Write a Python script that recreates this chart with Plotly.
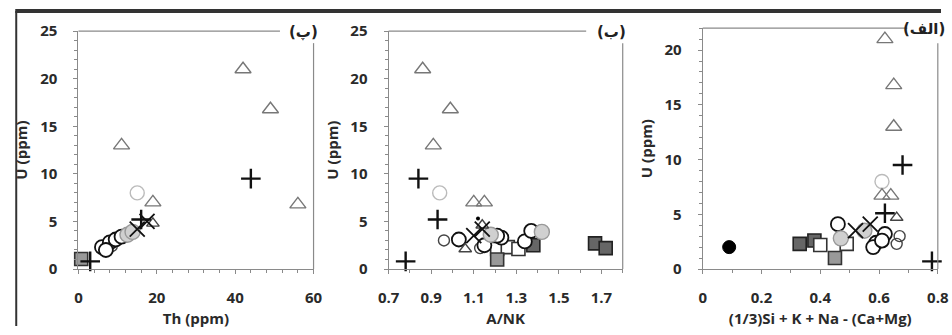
import plotly.graph_objects as go

W, H = 952, 335
# measured mapping of figure pixels to photographed pixels: X = AX + SX*x, Y = AY + SY*y
AX, SX, AY, SY = 3.7, 0.989, 8.7, 0.945

# ---------------- data ----------------
# Panel (پ): Th (ppm) vs U (ppm)
p1_tri_x = [42, 49, 11, 19, 56];          p1_tri_y = [21, 16.8, 13, 7, 6.8]
p1_plus_x = [44, 16, 3];                  p1_plus_y = [9.5, 5.2, 0.8]
p1_dcirc_x = [15];                        p1_dcirc_y = [8]
p1_sq_x = [0.7];                          p1_sq_y = [1.05]
p1_ocirc_x = [6, 8, 9.5, 7, 11];          p1_ocirc_y = [2.3, 2.8, 3.1, 2.0, 3.4]
p1_gcirc_x = [12.5, 13.8];                p1_gcirc_y = [3.6, 3.9]
p1_sdcirc_x = [6.5, 8.5];                 p1_sdcirc_y = [2.0, 2.4]
p1_dtri_x = [19];                         p1_dtri_y = [4.8]
p1_xm_x = [15, 17.5];                     p1_xm_y = [4.2, 5.0]

# Panel (ب): A/NK vs U (ppm)
p2_tri_x = [0.86, 0.99, 0.91, 1.10, 1.15]; p2_tri_y = [21, 16.8, 13, 7, 7]
p2_plus_x = [0.84, 0.93, 0.78];            p2_plus_y = [9.5, 5.2, 0.8]
p2_dcirc_x = [0.94];                       p2_dcirc_y = [8]
p2_dsq_x = [1.67, 1.72, 1.38];             p2_dsq_y = [2.7, 2.2, 2.5]
p2_lsq_x = [1.21];                         p2_lsq_y = [1.0]
p2_osq_x = [1.21, 1.26, 1.31];             p2_osq_y = [2.1, 2.3, 2.1]
p2_ocirc_x = [1.03, 1.15, 1.23, 1.34, 1.37, 1.21]
p2_ocirc_y = [3.1, 2.5, 3.3, 2.9, 4.0, 3.5]
p2_gcirc_x = [1.18, 1.42];                 p2_gcirc_y = [3.6, 3.9]
p2_sdcirc_x = [0.96, 1.13];                p2_sdcirc_y = [3.0, 2.2]
p2_dtri_x = [1.06, 1.14];                  p2_dtri_y = [2.1, 4.6]
p2_xm_x = [1.10, 1.14];                    p2_xm_y = [3.5, 4.2]
p2_dot_x = [1.12];                         p2_dot_y = [5.3]

# Panel (الف): (1/3)Si + K + Na - (Ca+Mg) vs U (ppm)
p3_tri_x = [0.62, 0.65, 0.65, 0.61, 0.64]; p3_tri_y = [21, 16.8, 13, 6.7, 6.7]
p3_plus_x = [0.68, 0.62, 0.78];            p3_plus_y = [9.5, 5.1, 0.7]
p3_dcirc_x = [0.61];                       p3_dcirc_y = [8]
p3_bcirc_x = [0.09];                       p3_bcirc_y = [2.0]
p3_dsq_x = [0.33, 0.38];                   p3_dsq_y = [2.3, 2.6]
p3_lsq_x = [0.45];                         p3_lsq_y = [1.0]
p3_osq_x = [0.40, 0.49];                   p3_osq_y = [2.2, 2.3]
p3_ocirc_x = [0.46, 0.62, 0.59, 0.58, 0.61]
p3_ocirc_y = [4.1, 3.2, 2.4, 2.0, 2.6]
p3_gcirc_x = [0.55, 0.47];                 p3_gcirc_y = [3.5, 2.8]
p3_sdcirc_x = [0.67, 0.66];                p3_sdcirc_y = [3.0, 2.3]
p3_dtri_x = [0.66];                        p3_dtri_y = [4.7]
p3_xm_x = [0.52, 0.57];                    p3_xm_y = [3.5, 4.1]

panel_titles = ["(پ)", "(ب)", "(الف)"]
x_titles = ["Th (ppm)", "A/NK", "(1/3)Si + K + Na - (Ca+Mg)"]
y_title = "U (ppm)"

# ---------------- styles ----------------
S = {
    "tri": dict(symbol="triangle-up-open", size=14, color="#777", line=dict(width=1.4, color="#777")),
    "plus": dict(symbol="cross-thin-open", size=14, color="#111", line=dict(width=2.4, color="#111")),
    "dcirc": dict(symbol="circle-open", size=14, color="#bbb", line=dict(width=1.4, color="#bbb")),
    "bcirc": dict(symbol="circle", size=13, color="#000", line=dict(width=1, color="#000")),
    "dsq": dict(symbol="square", size=13, color="#666", line=dict(width=1.6, color="#222")),
    "lsq": dict(symbol="square", size=13, color="#999", line=dict(width=1.6, color="#333")),
    "osq": dict(symbol="square", size=13, color="#fff", line=dict(width=1.6, color="#333")),
    "ocirc": dict(symbol="circle", size=14, color="#fff", line=dict(width=1.8, color="#111")),
    "gcirc": dict(symbol="circle", size=15, color="#d0d0d0", line=dict(width=1.4, color="#999")),
    "sdcirc": dict(symbol="circle-open", size=11, color="#444", line=dict(width=1.4, color="#444")),
    "dtri": dict(symbol="triangle-up-open", size=11, color="#444", line=dict(width=1.4, color="#444")),
    "xm": dict(symbol="x-thin-open", size=15, color="#111", line=dict(width=1.8, color="#111")),
    "dot": dict(symbol="circle", size=4, color="#000", line=dict(width=0)),
}

panels = [
    [("dcirc", p1_dcirc_x, p1_dcirc_y), ("tri", p1_tri_x, p1_tri_y), ("sq", p1_sq_x, p1_sq_y),
     ("sdcirc", p1_sdcirc_x, p1_sdcirc_y), ("ocirc", p1_ocirc_x, p1_ocirc_y),
     ("gcirc", p1_gcirc_x, p1_gcirc_y), ("dtri", p1_dtri_x, p1_dtri_y),
     ("xm", p1_xm_x, p1_xm_y), ("plus", p1_plus_x, p1_plus_y)],
    [("dcirc", p2_dcirc_x, p2_dcirc_y), ("tri", p2_tri_x, p2_tri_y), ("osq", p2_osq_x, p2_osq_y),
     ("dsq", p2_dsq_x, p2_dsq_y), ("lsq", p2_lsq_x, p2_lsq_y),
     ("sdcirc", p2_sdcirc_x, p2_sdcirc_y), ("ocirc", p2_ocirc_x, p2_ocirc_y),
     ("gcirc", p2_gcirc_x, p2_gcirc_y), ("dtri", p2_dtri_x, p2_dtri_y),
     ("xm", p2_xm_x, p2_xm_y), ("dot", p2_dot_x, p2_dot_y), ("plus", p2_plus_x, p2_plus_y)],
    [("dcirc", p3_dcirc_x, p3_dcirc_y), ("tri", p3_tri_x, p3_tri_y), ("bcirc", p3_bcirc_x, p3_bcirc_y),
     ("dsq", p3_dsq_x, p3_dsq_y), ("lsq", p3_lsq_x, p3_lsq_y), ("osq", p3_osq_x, p3_osq_y),
     ("sdcirc", p3_sdcirc_x, p3_sdcirc_y), ("ocirc", p3_ocirc_x, p3_ocirc_y),
     ("gcirc", p3_gcirc_x, p3_gcirc_y), ("dtri", p3_dtri_x, p3_dtri_y),
     ("xm", p3_xm_x, p3_xm_y), ("plus", p3_plus_x, p3_plus_y)],
]

fig = go.Figure()
for i, series in enumerate(panels):
    ax = "" if i == 0 else str(i + 1)
    for key, xs, ys in series:
        st = S["lsq"] if key == "sq" else S[key]
        fig.add_trace(go.Scatter(x=xs, y=ys, mode="markers", marker=st,
                                 xaxis="x" + ax, yaxis="y" + ax,
                                 showlegend=False, hoverinfo="skip", cliponaxis=False))


def px(X):  # photographed pixel -> paper x
    return min(1.0, max(0.0, (X - AX) / SX / W))


def py(Y):  # photographed pixel -> paper y
    return min(1.0, max(0.0, 1 - (Y - AY) / SY / H))


# photographed-pixel geometry (left, right, top) of each panel
geo = [(72, 310, 29), (386, 623, 29), (704, 942, 26)]
xranges = [[0, 60], [0.7, 1.8], [0, 0.8]]
yranges = [[0, 25], [0, 25], [0, 22]]
xtick = [dict(tick0=0, dtick=20, minor=4), dict(tick0=0.7, dtick=0.2, minor=0.1), dict(tick0=0, dtick=0.2, minor=0.1)]
label_cx = [300, 612, 928]
line_end = [276, 586, 911]
bottom = 268

FAM = "Open Sans, DejaVu Sans, sans-serif"
tfont = dict(family=FAM, size=15, color="#2a2a2a", weight="bold")
axcol = "#8a8a8a"

layout = dict(width=W, height=H, margin=dict(l=0, r=0, t=0, b=0), autosize=False,
              paper_bgcolor="white", plot_bgcolor="white", font=tfont, showlegend=False)
shapes = []
annotations = []
for i in range(3):
    ax = "" if i == 0 else str(i + 1)
    l, r, t = geo[i]
    layout["xaxis" + ax] = dict(domain=[px(l), px(r)], range=xranges[i], anchor="y" + ax,
                                showline=True, linecolor=axcol, linewidth=1.2,
                                showgrid=False, zeroline=False,
                                tick0=xtick[i]["tick0"], dtick=xtick[i]["dtick"],
                                ticks="outside", ticklen=4, tickcolor=axcol, tickwidth=1,
                                minor=dict(dtick=xtick[i]["minor"], ticks="outside", ticklen=3,
                                           tickcolor=axcol, showgrid=False),
                                tickfont=tfont, ticklabelstandoff=11,
                                title=dict(text=x_titles[i], font=tfont, standoff=7))
    layout["yaxis" + ax] = dict(domain=[py(bottom), py(t)], range=yranges[i], anchor="x" + ax,
                                showline=True, linecolor=axcol, linewidth=1.2,
                                showgrid=False, zeroline=False,
                                tick0=0, dtick=5,
                                ticks="outside", ticklen=4, tickcolor=axcol, tickwidth=1,
                                minor=dict(dtick=1, ticks="outside", ticklen=3,
                                           tickcolor=axcol, showgrid=False),
                                tickfont=tfont, ticklabelstandoff=13,
                                title=dict(text=y_title, font=tfont, standoff=8))
    # partial top line and right line
    shapes.append(dict(type="line", xref="paper", yref="paper",
                       x0=px(l), x1=px(line_end[i]), y0=py(t), y1=py(t),
                       line=dict(color=axcol, width=1.2)))
    shapes.append(dict(type="line", xref="paper", yref="paper",
                       x0=px(r), x1=px(r), y0=py(41), y1=py(bottom),
                       line=dict(color=axcol, width=1.2)))
    annotations.append(dict(text="\u200e" + panel_titles[i] + "\u200e", xref="paper", yref="paper",
                            x=px(label_cx[i]), y=py(t + 1), xanchor="center", yanchor="middle",
                            showarrow=False, font=dict(size=15, color="#222", weight="bold",
                                                       family="DejaVu Sans, sans-serif")))

# outer frame (top and left edges)
shapes.append(dict(type="line", xref="paper", yref="paper", x0=px(8), x1=1, y0=1, y1=1,
                   line=dict(color="#333", width=4)))
shapes.append(dict(type="line", xref="paper", yref="paper", x0=px(9), x1=px(9), y0=1, y1=0,
                   line=dict(color="#333", width=2)))

layout["shapes"] = shapes
layout["annotations"] = annotations
fig.update_layout(**layout)
fig.write_html("out.html")
